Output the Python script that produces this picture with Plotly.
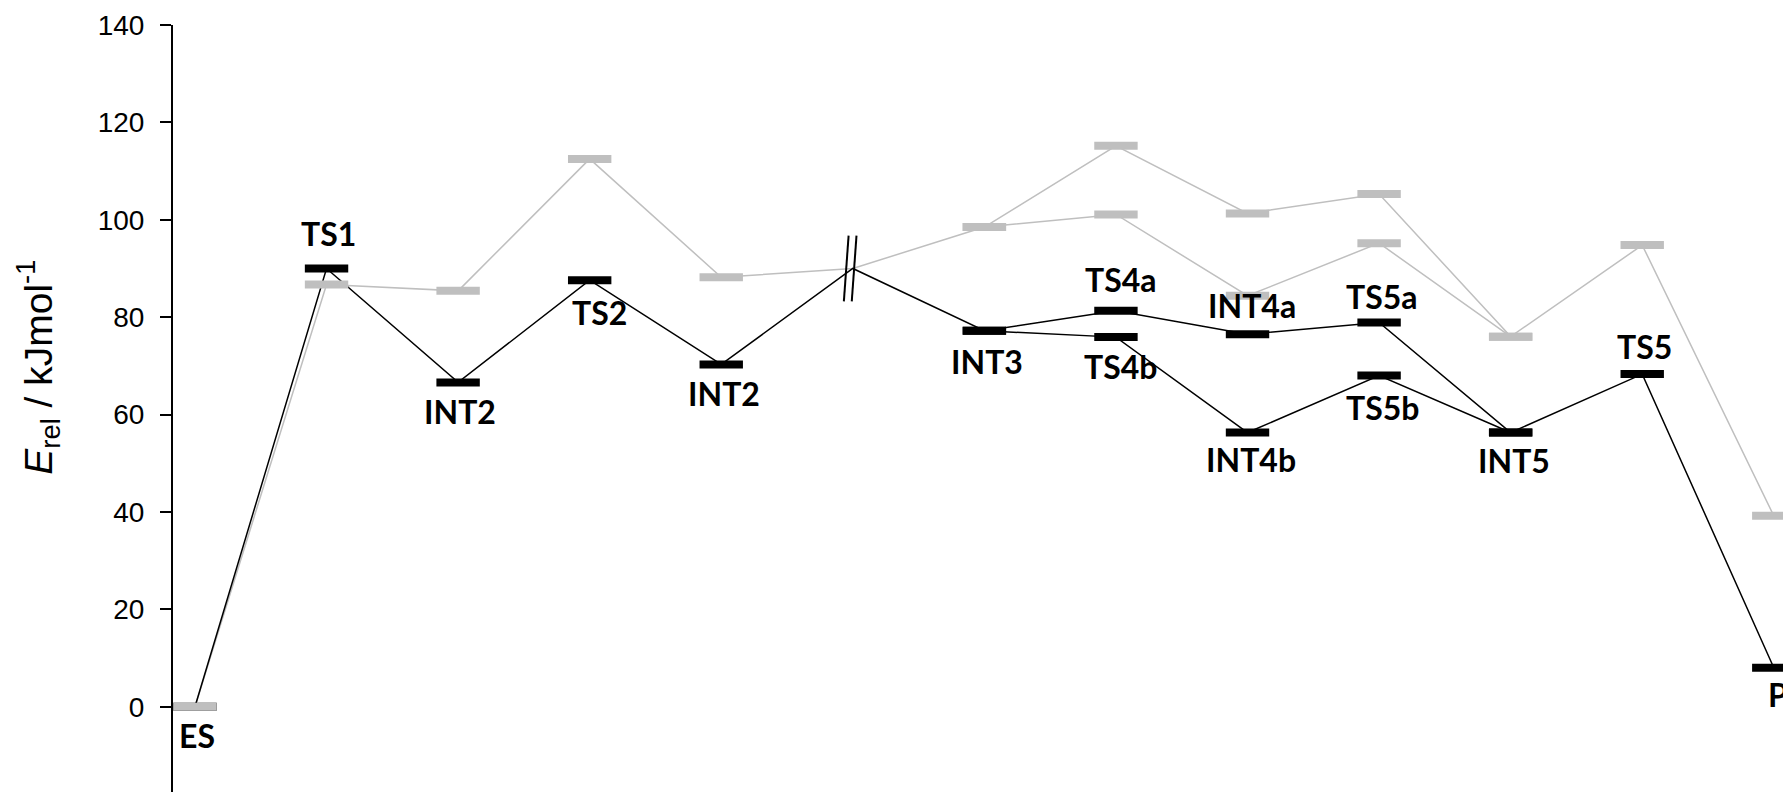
import plotly.graph_objects as go

# reaction coordinate positions (index 5 is the axis break, no level there)
stages = ["ES", "TS1", "INT2", "TS2", "INT2", "break", "INT3", "TS4", "INT4", "TS5ab", "INT5", "TS5", "P"]
x_pos = list(range(len(stages)))
break_idx = 5

# black pathway
black_main = [0, 90.0, 66.6, 87.6, 70.3, 90.0, 77.2, 81.3, 76.5, 78.9, 56.3, 68.3, 8.0]
black_branch_x = [6, 7, 8, 9, 10]
black_branch = [77.2, 75.9, 56.3, 68.0, 56.3]

# grey pathway
grey_main = [0, 86.7, 85.4, 112.5, 88.2, 90.0, 98.5, 115.2, 101.3, 105.3, 76.0, 94.8, 39.2]
grey_branch_x = [6, 7, 8, 9, 10]
grey_branch = [98.5, 101.1, 84.4, 95.2, 76.0]

# labels of the black levels
label_text = ["ES", "TS1", "INT2", "TS2", "INT2", "INT3", "TS4a", "TS4b",
              "INT4a", "INT4b", "TS5a", "TS5b", "INT5", "TS5", "P"]
label_x = [0, 1, 2, 3, 4, 6, 7, 7, 8, 8, 9, 9, 10, 11, 12]
label_y = [0, 90.0, 66.6, 87.6, 70.3, 77.2, 81.3, 75.9, 76.5, 56.3, 78.9, 68.0, 56.3, 68.3, 8.0]

# label placement (px, + above the bar, - below)
label_offset = [-32, 32, -32, -35, -32, -34, 28, -32, 26, -30, 23, -35, -31, 25, -30]
label_dx = [2, 2, 2, 10, 3, 3, 5, 5, 4, 3, 3, 3, 3, 2, 4]

y_ticks = [0, 20, 40, 60, 80, 100, 120, 140]

BLACK = "#000000"
GREY = "#BFBFBF"


def levels(xs, ys):
    # drop the break position, it has no energy level bar
    pts = [(x, y) for x, y in zip(xs, ys) if x != break_idx]
    return [p[0] for p in pts], [p[1] for p in pts]


def line_trace(xs, ys, color):
    return go.Scatter(x=xs, y=ys, mode="lines",
                      line=dict(color=color, width=1.5),
                      hoverinfo="skip", showlegend=False)


def bar_trace(xs, ys, color):
    bx, by = levels(xs, ys)
    # line-ew marker is 1.4 x size long -> ~43 px bars
    return go.Scatter(x=bx, y=by, mode="markers",
                      marker=dict(symbol="line-ew", size=31, color=color,
                                  line=dict(color=color, width=8)),
                      showlegend=False)


fig = go.Figure()

fig.add_trace(line_trace(x_pos, grey_main, GREY))
fig.add_trace(line_trace(grey_branch_x, grey_branch, GREY))
fig.add_trace(line_trace(x_pos, black_main, BLACK))
fig.add_trace(line_trace(black_branch_x, black_branch, BLACK))

fig.add_trace(bar_trace(x_pos, black_main, BLACK))
fig.add_trace(bar_trace(black_branch_x, black_branch, BLACK))
fig.add_trace(bar_trace(x_pos, grey_main, GREY))
fig.add_trace(bar_trace(grey_branch_x, grey_branch, GREY))

# axis break mark "//"
bv = black_main[break_idx]
bx = x_pos[break_idx] - 0.02
fig.add_trace(go.Scatter(
    x=[bx - 0.03 + 0.018, bx - 0.03 - 0.018, None, bx + 0.03 + 0.018, bx + 0.03 - 0.018],
    y=[bv + 6.75, bv - 6.75, None, bv + 6.75, bv - 6.75],
    mode="lines", line=dict(color=BLACK, width=2),
    hoverinfo="skip", showlegend=False))

for t, x, y, off, dx in zip(label_text, label_x, label_y, label_offset, label_dx):
    fig.add_annotation(
        x=x, y=y, text=t, showarrow=False,
        xanchor="center", yanchor="middle",
        xshift=dx, yshift=off + 3,
        font=dict(family="Lato", size=32, color=BLACK, weight="bold"))

fig.add_annotation(
    xref="paper", yref="paper", x=-0.0835, y=0.554,
    text="<i>E</i><sub>rel</sub> / kJmol<sup>-1</sup>",
    textangle=-90, showarrow=False, xanchor="center", yanchor="middle",
    font=dict(family="Liberation Sans", size=39, color=BLACK))

fig.update_layout(
    width=1783, height=792,
    margin=dict(l=173, r=0, t=25, b=0),
    plot_bgcolor="white", paper_bgcolor="white",
    xaxis=dict(range=[-0.167, 12.07], visible=False, showgrid=False, zeroline=False),
    yaxis=dict(range=[-17.52, 140], tickvals=y_ticks, showgrid=False, zeroline=False,
               showline=True, linecolor=BLACK, linewidth=2,
               ticks="outside", ticklen=11, tickwidth=2, tickcolor=BLACK,
               ticklabelstandoff=10,
               tickfont=dict(family="Liberation Sans", size=28, color=BLACK)),
)

fig.write_html("out.html", config={"displayModeBar": False},
               post_script="document.body.style.margin = '0';")
